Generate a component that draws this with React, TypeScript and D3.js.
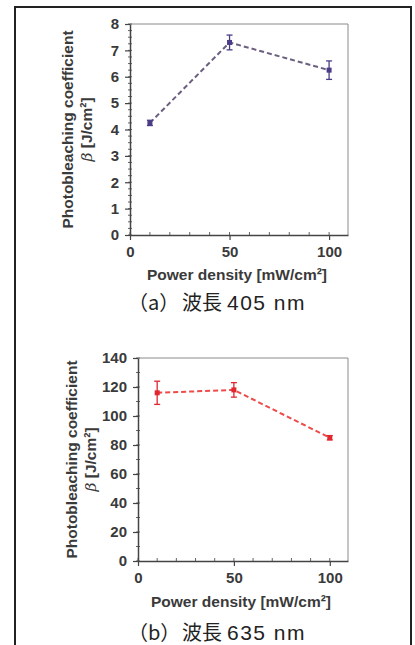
import { useEffect, useRef } from "react";
import * as d3 from "d3";

const powerDensity = [10, 50, 100];
const beta405 = [4.25, 7.3, 6.25];
const err405 = [0.1, 0.28, 0.35];
const beta635 = [116, 118, 85];
const err635 = [8, 5, 1.5];
const xTicks = [0, 50, 100];
const yTicks405 = [0, 1, 2, 3, 4, 5, 6, 7, 8];
const yTicks635 = [0, 20, 40, 60, 80, 100, 120, 140];

const FONT = "'Liberation Sans', Arial, sans-serif";
const CJK = "'Noto Sans CJK JP', sans-serif";
const TEXT = "#3a3a3a";

type PanelProps = {
  values: number[];
  errors: number[];
  yTicks: number[];
  yMinorStep: number;
  left: number;
  top: number;
  bottom: number;
  markColor: string;
  lineColor: string;
  yTitleX: number;
  xTitleY: number;
  label: string;
  wavelength: string;
  captionY: number;
};

const Panel = (p: PanelProps) => {
  const gRef = useRef<SVGGElement>(null);

  useEffect(() => {
    const g = d3.select(gRef.current);
    g.selectAll("*").remove();

    const right = 348;
    const x = d3.scaleLinear().domain([0, 109.5]).range([p.left, right]);
    const yMax = p.yTicks[p.yTicks.length - 1];
    const y = d3.scaleLinear().domain([0, yMax]).range([p.bottom, p.top]);

    // frame of the plot area
    g.append("path")
      .attr("d", `M${p.left},${p.top}H${right}V${p.bottom}`)
      .attr("fill", "none")
      .attr("stroke", "#8a8a8a")
      .attr("stroke-width", 1);

    // minor ticks
    const yMinor = d3.range(0, yMax + 1e-6, p.yMinorStep);
    g.selectAll(".ym")
      .data(yMinor)
      .enter()
      .append("line")
      .attr("x1", p.left - 2)
      .attr("x2", p.left + 2)
      .attr("y1", (d) => y(d))
      .attr("y2", (d) => y(d))
      .attr("stroke", "#666");
    g.selectAll(".xm")
      .data(d3.range(0, 110, 10))
      .enter()
      .append("line")
      .attr("x1", (d) => x(d))
      .attr("x2", (d) => x(d))
      .attr("y1", p.bottom - 3)
      .attr("y2", p.bottom + 1)
      .attr("stroke", "#666");

    // axes
    const yAxis = g
      .append("g")
      .attr("transform", `translate(${p.left},0)`)
      .call(d3.axisLeft(y).tickValues(p.yTicks).tickSize(5).tickPadding(6).tickSizeOuter(0));
    const xAxis = g
      .append("g")
      .attr("transform", `translate(0,${p.bottom})`)
      .call(d3.axisBottom(x).tickValues(xTicks).tickSize(5).tickPadding(6).tickSizeOuter(0));
    [yAxis, xAxis].forEach((a) => {
      a.select(".domain").attr("stroke", "#444").attr("stroke-width", 1.5);
      a.selectAll("line").attr("stroke", "#444").attr("stroke-width", 1.2);
      a.selectAll("text")
        .attr("font-family", FONT)
        .attr("font-size", 15)
        .attr("font-weight", "bold")
        .attr("fill", TEXT);
    });

    // dashed connecting line
    const pts: [number, number][] = powerDensity.map((d, i) => [d, p.values[i]]);
    g.append("path")
      .datum(pts)
      .attr("d", d3.line<[number, number]>().x((d) => x(d[0])).y((d) => y(d[1])))
      .attr("fill", "none")
      .attr("stroke", p.lineColor)
      .attr("stroke-width", 2)
      .attr("stroke-dasharray", "5,3");

    // error bars
    const eb = g
      .selectAll(".eb")
      .data(powerDensity)
      .enter()
      .append("g")
      .attr("stroke", p.markColor)
      .attr("stroke-width", 1.3);
    eb.append("line")
      .attr("x1", (d) => x(d))
      .attr("x2", (d) => x(d))
      .attr("y1", (d, i) => y(p.values[i] - p.errors[i]))
      .attr("y2", (d, i) => y(p.values[i] + p.errors[i]));
    [-1, 1].forEach((s) =>
      eb.append("line")
        .attr("x1", (d) => x(d) - 3)
        .attr("x2", (d) => x(d) + 3)
        .attr("y1", (d, i) => y(p.values[i] + s * p.errors[i]))
        .attr("y2", (d, i) => y(p.values[i] + s * p.errors[i]))
    );

    // markers
    g.selectAll(".mk")
      .data(powerDensity)
      .enter()
      .append("rect")
      .attr("x", (d) => x(d) - 2.5)
      .attr("y", (d, i) => y(p.values[i]) - 2.5)
      .attr("width", 5)
      .attr("height", 5)
      .attr("fill", p.markColor);

    // y title (two lines)
    const yc = (p.top + p.bottom) / 2;
    g.append("text")
      .attr("transform", `translate(${p.yTitleX},${yc}) rotate(-90)`)
      .attr("text-anchor", "middle")
      .attr("dy", "0.35em")
      .attr("font-family", FONT)
      .attr("font-size", 15.5)
      .attr("font-weight", "bold")
      .attr("fill", TEXT)
      .text("Photobleaching coefficient");
    const t2 = g.append("text")
      .attr("transform", `translate(${p.yTitleX + 19},${yc}) rotate(-90)`)
      .attr("text-anchor", "middle")
      .attr("dy", "0.35em")
      .attr("font-family", FONT)
      .attr("font-size", 15.5)
      .attr("font-weight", "bold")
      .attr("fill", TEXT);
    t2.append("tspan").attr("font-style", "italic").attr("font-weight", "normal").attr("font-family", "'DejaVu Serif', serif").text("β");
    t2.append("tspan").text(" [J/cm²]");

    // x title
    g.append("text")
      .attr("x", (x(0) + right) / 2 - 2)
      .attr("y", p.xTitleY)
      .attr("text-anchor", "middle")
      .attr("font-family", FONT)
      .attr("font-size", 15.5)
      .attr("font-weight", "bold")
      .attr("fill", TEXT)
      .text("Power density [mW/cm²]");

    // caption
    const cap = g.append("text")
      .attr("y", p.captionY)
      .attr("font-family", CJK)
      .attr("font-size", 20)
      .attr("fill", "#222");
    cap.append("tspan").attr("x", 128).text(`（${p.label}）`);
    cap.append("tspan").attr("x", 182).text("波長");
    cap.append("tspan")
      .attr("x", 227)
      .attr("font-family", FONT)
      .attr("font-size", 21)
      .attr("letter-spacing", 1.5)
      .text(`${p.wavelength} nm`);
  }, [p]);

  return <g ref={gRef}></g>;
};

export default function App() {
  return (
    <svg
      width={415}
      height={645}
      style={{ position: "absolute", left: 0, top: 0, background: "#fff" }}
    >
      <path d="M15,645V7H411V645" fill="none" stroke="#222" strokeWidth={2} />
      <Panel
        values={beta405}
        errors={err405}
        yTicks={yTicks405}
        yMinorStep={0.25}
        left={130}
        top={24}
        bottom={235}
        markColor="#4a3c86"
        lineColor="#6b5f80"
        yTitleX={68}
        xTitleY={280}
        label="a"
        wavelength="405"
        captionY={310}
      />
      <Panel
        values={beta635}
        errors={err635}
        yTicks={yTicks635}
        yMinorStep={10}
        left={138}
        top={358}
        bottom={561}
        markColor="#e0262e"
        lineColor="#ee4a4a"
        yTitleX={72}
        xTitleY={607}
        label="b"
        wavelength="635"
        captionY={640}
      />
    </svg>
  );
}
